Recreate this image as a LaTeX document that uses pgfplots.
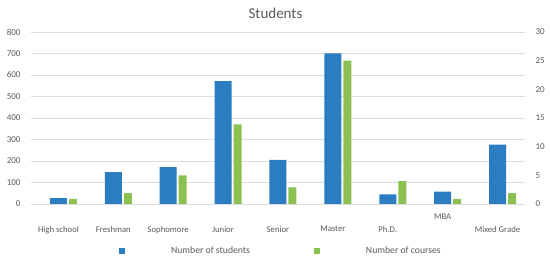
\documentclass[border=0pt]{standalone}
\usepackage{fontspec}
\setmainfont{Carlito}
\usepackage{pgfplots}
\pgfplotsset{compat=1.18}
\definecolor{bblue}{HTML}{2A7DC1}
\definecolor{bgreen}{HTML}{8CC152}
\definecolor{tgray}{HTML}{595959}
\definecolor{gridc}{HTML}{DDDDDD}
\begin{document}
\begin{tikzpicture}[x=1pt,y=1pt]
\useasboundingbox (0,0) rectangle (550,261);
\pgfplotsset{
 common/.style={
  at={(31pt,57pt)}, anchor=south west,
  scale only axis, width=494pt, height=172pt,
  xmin=-0.5, xmax=8.5, ymin=0,
  ybar, axis line style={draw=none}, tick style={draw=none},
  major tick length=0pt,
  ticklabel style={text=tgray},
  /pgf/number format/assume math mode=true,
 }
}
\begin{axis}[common,
  ymax=800, ytick={0,100,...,800},
  ymajorgrids, grid style={gridc, line width=0.8pt},
  yticklabel style={font=\fontsize{9}{10}\selectfont, xshift=-7pt},
  xtick={0,1,2,3,4,5,6,8},
  xticklabels={High school,Freshman,Sophomore,Junior,Senior,Master,Ph.D.,Mixed Grade},
  extra x ticks={7}, extra x tick labels={MBA},
  extra x tick style={xticklabel style={yshift=12.3pt}},
  xticklabel style={font=\fontsize{8.7}{10}\selectfont, yshift=-18.5pt},
  title={Students},
  title style={font=\fontsize{15}{16}\selectfont, text=tgray, at={(0.5,1)}, anchor=base, yshift=7pt, xshift=-2.5pt},
  legend columns=2,
  legend image code/.code={\fill[#1,draw=none] (0pt,-3pt) rectangle (6pt,3pt); \path[draw=none,fill=none] (0pt,0pt) -- (50pt,0pt);},
  legend style={draw=none, fill=none, inner sep=0pt, at={(0.178,-0.273)}, anchor=west,
    font=\fontsize{9.7}{11}\selectfont, text=tgray,
    /tikz/every even column/.append style={column sep=62pt}},
]
\addplot[fill=bblue, draw=none, bar width=17pt, bar shift=0pt] coordinates {
 (0,27) (1,148) (2,171) (3,572) (4,205) (5,701) (6,45) (7,57) (8,276)};
\addlegendentry{Number of students}
\addlegendimage{fill=bgreen, draw=none}
\addlegendentry{Number of courses}
\end{axis}
\begin{axis}[common,
  ymax=30, ytick={0,5,...,30},
  yticklabel pos=right,
  yticklabel style={font=\fontsize{9}{10}\selectfont, xshift=7pt},
  xtick=\empty,
]
\addplot[fill=bgreen, draw=none, bar width=8pt, bar shift=14.5pt] coordinates {
 (0,0.9) (1,1.9) (2,5) (3,13.9) (4,2.9) (5,25) (6,4) (7,0.9) (8,1.9)};
\end{axis}
\end{tikzpicture}
\end{document}
